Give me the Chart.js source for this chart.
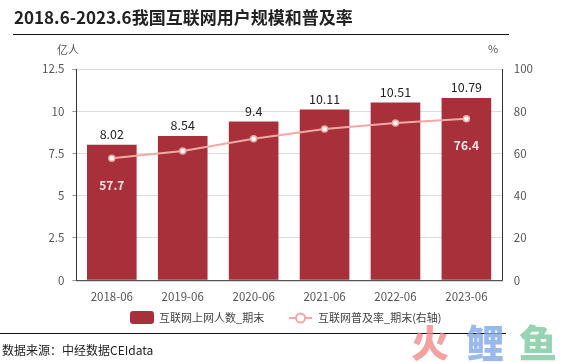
<!DOCTYPE html>
<html>
<head>
<meta charset="utf-8">
<script src="https://cdn.jsdelivr.net/npm/chart.js@4"></script>
<style>
  html, body { margin: 0; padding: 0; background: #fff; }
  #wrap { width: 581px; height: 362px; }
</style>
</head>
<body>
<div id="wrap"><canvas id="myChart" width="581" height="362"></canvas></div>
<script>
var years = ['2018-06', '2019-06', '2020-06', '2021-06', '2022-06', '2023-06'];
var users = [8.02, 8.54, 9.4, 10.11, 10.51, 10.79];
var rate = [57.7, 61.2, 67.0, 71.6, 74.4, 76.4];
var rateLabelIdx = [0, 5];

var FONT = '"Noto Sans CJK SC", "Noto Sans", sans-serif';
var BAR = '#A8303A';
var LINE = '#F2A9A6';

// title, units, legend, source drawn here
var decor = {
    id: 'decor',
    afterDraw: function (chart) {
        var ctx = chart.ctx;
        var a = chart.chartArea;
        ctx.save();
        ctx.fillStyle = '#222';
        ctx.font = 'bold 17px ' + FONT;
        ctx.textBaseline = 'middle';
        ctx.fillText('2018.6-2023.6我国互联网用户规模和普及率', 14, 18);
        ctx.strokeStyle = '#111';
        ctx.lineWidth = 1;
        ctx.beginPath();
        ctx.moveTo(13, 34.5); ctx.lineTo(509, 34.5);
        ctx.moveTo(0, 333.5); ctx.lineTo(506, 333.5);
        ctx.stroke();

        ctx.font = '11px ' + FONT;
        ctx.fillStyle = '#555';
        ctx.textAlign = 'center';
        ctx.fillText('亿人', 68, 50);
        ctx.fillText('%', 493, 49);

        // legend
        ctx.fillStyle = BAR;
        ctx.beginPath();
        ctx.roundRect(130, 311, 24, 13, 3);
        ctx.fill();
        ctx.fillStyle = '#444';
        ctx.textAlign = 'left';
        ctx.font = '11px ' + FONT;
        ctx.fillText('互联网上网人数_期末', 159, 318);
        ctx.strokeStyle = LINE;
        ctx.lineWidth = 2;
        ctx.beginPath();
        ctx.moveTo(289, 318); ctx.lineTo(312, 318);
        ctx.stroke();
        ctx.fillStyle = '#fff';
        ctx.beginPath();
        ctx.arc(300.5, 318, 4.5, 0, Math.PI * 2);
        ctx.fill(); ctx.stroke();
        ctx.fillStyle = '#444';
        ctx.fillText('互联网普及率_期末(右轴)', 318, 318);

        // source
        ctx.fillStyle = '#222';
        ctx.font = '12px ' + FONT;
        ctx.fillText('数据来源：中经数据CEIdata', 2, 350);

        // watermark
        ctx.font = '900 38px ' + FONT;
        ctx.globalAlpha = 0.8;
        ctx.fillStyle = '#F28A8A';
        ctx.fillText('火', 411, 343);
        ctx.fillStyle = '#7FA8E8';
        ctx.fillText('鲤', 466, 343);
        ctx.fillStyle = '#7CC8A0';
        ctx.fillText('鱼', 519, 343);
        ctx.globalAlpha = 1;

        // value labels
        ctx.textAlign = 'center';
        ctx.textBaseline = 'bottom';
        ctx.font = '12.5px ' + FONT;
        ctx.fillStyle = '#222';
        chart.getDatasetMeta(0).data.forEach(function (b, i) {
            ctx.fillText(String(users[i]), b.x, b.y - 4);
        });
        ctx.font = 'bold 12px ' + FONT;
        ctx.fillStyle = '#F8E6E4';
        ctx.textBaseline = 'middle';
        var pts = chart.getDatasetMeta(1).data;
        rateLabelIdx.forEach(function (i) {
            ctx.fillText(rate[i].toFixed(1), pts[i].x, pts[i].y + 27);
        });

        // axis lines
        ctx.strokeStyle = '#333';
        ctx.lineWidth = 1;
        ctx.beginPath();
        ctx.moveTo(Math.round(a.left) + 0.5, a.top);
        ctx.lineTo(Math.round(a.left) + 0.5, a.bottom + 0.5);
        ctx.lineTo(Math.round(a.right) + 0.5, a.bottom + 0.5);
        ctx.lineTo(Math.round(a.right) + 0.5, a.top);
        ctx.stroke();
        ctx.restore();
    }
};

var ctx = document.getElementById('myChart').getContext('2d');
var chart = new Chart(ctx, {
    type: 'bar',
    data: {
        labels: years,
        datasets: [{
            type: 'bar',
            label: '互联网上网人数_期末',
            data: users,
            backgroundColor: BAR,
            yAxisID: 'y',
            categoryPercentage: 0.7,
            barPercentage: 1,
            order: 2
        }, {
            type: 'line',
            label: '互联网普及率_期末(右轴)',
            data: rate,
            borderColor: LINE,
            borderWidth: 2,
            pointBackgroundColor: '#fff',
            pointBorderColor: LINE,
            pointBorderWidth: 1.5,
            pointRadius: 3,
            yAxisID: 'y1',
            order: 1
        }]
    },
    options: {
        responsive: false,
        animation: false,
        layout: { padding: { top: 69, bottom: 56, left: 34, right: 40 } },
        plugins: { legend: { display: false }, tooltip: { enabled: false } },
        scales: {
            x: {
                grid: { display: false },
                border: { display: false },
                ticks: { color: '#555', font: { family: FONT, size: 11.5 }, padding: 2 }
            },
            y: {
                position: 'left',
                min: 0, max: 12.5,
                ticks: { stepSize: 2.5, color: '#555', font: { family: FONT, size: 11.5 }, padding: 8 },
                grid: { color: '#dcdcdc', drawTicks: true, tickLength: 4, tickColor: '#999' },
                border: { display: false }
            },
            y1: {
                position: 'right',
                min: 0, max: 100,
                ticks: { stepSize: 20, color: '#555', font: { family: FONT, size: 11.5 }, padding: 8 },
                grid: { display: false, drawOnChartArea: false, tickLength: 4, tickColor: '#999' },
                border: { display: false }
            }
        }
    },
    plugins: [decor]
});
</script>
</body>
</html>
